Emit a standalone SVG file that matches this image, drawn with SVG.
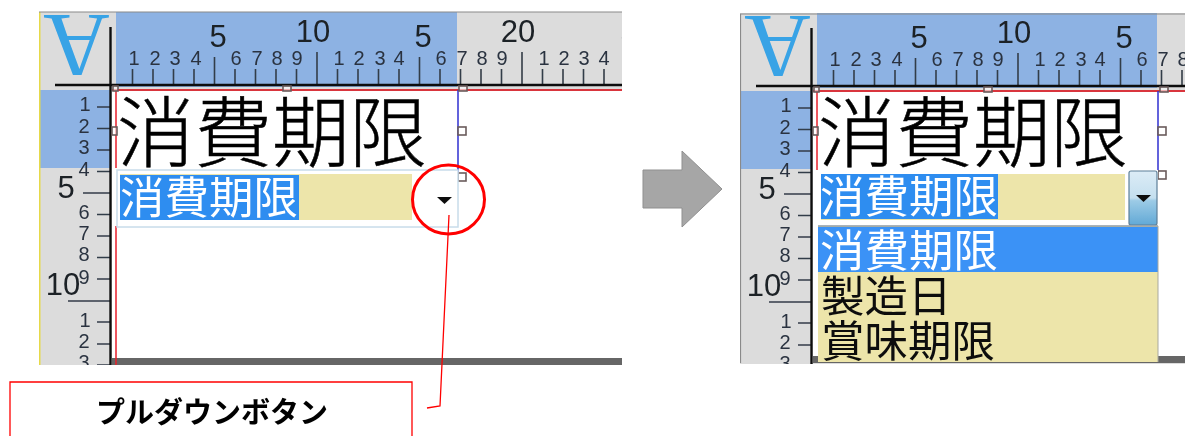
<svg xmlns="http://www.w3.org/2000/svg" xmlns:xlink="http://www.w3.org/1999/xlink" width="1189" height="436" viewBox="0 0 1189 436">
<style>
.n{font-family:"Liberation Sans",Arial,sans-serif;font-size:20px;fill:#2a3340;text-anchor:middle}
.m{font-family:"Liberation Sans",Arial,sans-serif;font-size:31px;fill:#1c2026;text-anchor:middle}
.tick{stroke:#333c48;stroke-width:1.6;fill:none}
.axis{stroke:#111;stroke-width:2.4;fill:none}
.h{fill:#fff;fill-opacity:.6;stroke:#6a5a5a;stroke-width:1.6}
.jp{font-family:"Liberation Sans","Noto Sans CJK JP",sans-serif}
.big{font-size:77.5px;font-weight:300;fill:#000;stroke:#000;stroke-width:.5}
.fld{font-size:44.5px;fill:#fff}
.lst{font-size:43.5px;fill:#111}
.red{stroke:#f00;fill:none}
</style>
<defs>
<filter id="soft" x="0" y="0" width="100%" height="100%"><feGaussianBlur stdDeviation="0.45"/></filter>
<clipPath id="cl"><rect x="39" y="12" width="583" height="353"/></clipPath>
<clipPath id="cr"><rect x="39" y="12" width="445" height="351"/></clipPath>
<linearGradient id="btn" x1="0" y1="0" x2="0" y2="1">
<stop offset="0" stop-color="#dcecf6"/><stop offset=".5" stop-color="#c4dfef"/><stop offset=".55" stop-color="#9ccbe6"/><stop offset="1" stop-color="#62a9d6"/>
</linearGradient>
<g id="ruler">
<path class="tick" d="M132.500 69V85M153 69V85M173.500 69V85M194 69V85M214.500 57V85M235 69V85M255.500 69V85M276 69V85M296.500 69V85M317 52V85M337.500 69V85M358 69V85M378.500 69V85M399 69V85M419.500 57V85M440 69V85M460.500 69V85M481 69V85M501.500 69V85M522 52V85M542.500 69V85M563 69V85M583.500 69V85M604 69V85"/>
<path class="tick" d="M97 107H110M97 128.500H110M97 150H110M97 171.500H110M83 193H110M97 214.500H110M97 236H110M97 257.500H110M97 279H110M68 301H110M97 322H110M97 344H110M97 365H110"/>
<g>
<text class="n" x="134" y="65">1</text><text class="n" x="155" y="65">2</text><text class="n" x="175" y="65">3</text><text class="n" x="196" y="65">4</text><text class="m" x="218" y="47">5</text><text class="n" x="236" y="65">6</text><text class="n" x="257" y="65">7</text><text class="n" x="277" y="65">8</text><text class="n" x="297" y="65">9</text><text class="m" x="313" y="42">10</text>
<text class="n" x="339" y="65">1</text><text class="n" x="359" y="65">2</text><text class="n" x="380" y="65">3</text><text class="n" x="399" y="65">4</text><text class="m" x="423" y="47">5</text><text class="n" x="441" y="65">6</text><text class="n" x="462" y="65">7</text><text class="n" x="482" y="65">8</text><text class="n" x="502" y="65">9</text><text class="m" x="518" y="42">20</text>
<text class="n" x="544" y="65">1</text><text class="n" x="564" y="65">2</text><text class="n" x="584" y="65">3</text><text class="n" x="604" y="65">4</text><text class="m" x="629" y="43">5</text>
</g>
<g>
<text class="n" x="85" y="111">1</text><text class="n" x="84" y="133">2</text><text class="n" x="84" y="154">3</text><text class="n" x="84" y="176">4</text><text class="m" x="66" y="198">5</text><text class="n" x="84" y="219">6</text><text class="n" x="84" y="240">7</text><text class="n" x="84" y="261">8</text><text class="n" x="84" y="284">9</text><text class="m" x="63" y="295">10</text><text class="n" x="85" y="327">1</text><text class="n" x="84" y="348">2</text><text class="n" x="84" y="369">3</text>
</g>
<text transform="rotate(180 76.500 48)" x="76.500" y="81" font-family="Liberation Serif,serif" font-size="92" fill="#37a3e6" text-anchor="middle">A</text>
<path class="axis" d="M55 85H622M110.500 27V365"/>
</g>
</defs>

<rect width="1189" height="436" fill="#fff"/>

<g id="panel-left" filter="url(#soft)">
<g clip-path="url(#cl)">
<rect x="39" y="12" width="583" height="353" fill="#dcdcdc"/>
<rect x="116" y="12" width="341" height="75" fill="#8db2e3"/>
<rect x="39" y="90" width="71" height="78" fill="#8db2e3"/>
<rect x="112" y="90" width="510" height="268" fill="#fff"/>
<rect x="112" y="358" width="510" height="7" fill="#666"/>
<use xlink:href="#ruler" href="#ruler"/>
</g>
<path d="M39.500 12V365" stroke="#e6d94a" stroke-width="2" fill="none"/>
<path d="M39 12H622" stroke="#8a8a8a" stroke-width="1.2" fill="none"/>
<path d="M112 90H622" stroke="#d9363e" stroke-width="1.800" fill="none"/>
<path d="M116 90V168M116 226V365" stroke="#e8202a" stroke-width="1.500" fill="none"/>
<path d="M458 90V172" stroke="#3030d0" stroke-width="1.500" fill="none"/>
<g>
<rect class="h" x="113" y="86" width="5" height="5"/><rect class="h" x="283" y="86" width="8" height="5"/><rect class="h" x="459" y="86" width="8" height="5"/>
<rect class="h" x="112" y="127" width="5" height="8"/><rect class="h" x="458" y="127" width="8" height="8"/><rect class="h" x="458" y="173" width="8" height="8"/>
</g>
<text class="jp big" x="117" y="161">消費期限</text>
<rect x="117" y="170" width="341" height="57" fill="#fff" stroke="#c8dcea" stroke-width="1.500"/>
<rect x="120" y="174" width="292" height="46" fill="#ede5aa"/>
<rect x="120" y="175" width="179" height="45" fill="#2f8df0"/>
<text class="jp fld" x="120" y="214">消費期限</text>
<path d="M437 197H452L444.500 204Z" fill="#111"/>
</g>

<g id="panel-right" filter="url(#soft)">
<g clip-path="url(#cr)" transform="translate(701,1)">
<rect x="39" y="12" width="445" height="351" fill="#dcdcdc"/>
<rect x="116" y="12" width="340" height="75" fill="#8db2e3"/>
<rect x="39" y="90" width="71" height="78" fill="#8db2e3"/>
<rect x="112" y="90" width="372" height="265" fill="#fff"/>
<rect x="112" y="355" width="372" height="7" fill="#666"/>
<use xlink:href="#ruler" href="#ruler"/>
</g>
<path d="M740.500 14V363" stroke="#8a8a8a" stroke-width="1.200" fill="none"/>
<path d="M740 14H1185" stroke="#8a8a8a" stroke-width="1.2" fill="none"/>
<path d="M813 91H1185" stroke="#d9363e" stroke-width="1.800" fill="none"/>
<path d="M817 91V170" stroke="#e8202a" stroke-width="1.500" fill="none"/>
<path d="M1158 91V172" stroke="#3030d0" stroke-width="1.500" fill="none"/>
<g>
<rect class="h" x="814" y="87" width="5" height="5"/><rect class="h" x="984" y="87" width="8" height="5"/><rect class="h" x="1160" y="87" width="8" height="5"/>
<rect class="h" x="813" y="127" width="5" height="8"/><rect class="h" x="1158" y="127" width="8" height="8"/><rect class="h" x="1158" y="171" width="8" height="8"/>
</g>
<text class="jp big" x="818" y="161">消費期限</text>
<rect x="818" y="170" width="340" height="56" fill="#fff"/>
<rect x="821" y="174" width="304" height="46" fill="#ede5aa"/>
<rect x="821" y="174" width="177" height="45" fill="#2f8df0"/>
<text class="jp fld" x="820" y="213">消費期限</text>
<rect x="1129" y="171" width="28" height="54" rx="2" fill="url(#btn)" stroke="#5d7f98" stroke-width="1.200"/>
<path d="M1136 195H1151L1143.500 202Z" fill="#111"/>
<rect x="818" y="226" width="340" height="136" fill="#ede5aa"/>
<rect x="818" y="227" width="340" height="45" fill="#3a92f6"/>
<path d="M818 226H1158" stroke="#8d9aa5" stroke-width="1.500" fill="none"/>
<path d="M1158 226V362" stroke="#a9a9a0" stroke-width="1" fill="none"/>
<text class="jp fld" x="820" y="267">消費期限</text>
<text class="jp lst" x="821" y="312">製造日</text>
<text class="jp lst" x="821" y="357">賞味期限</text>
</g>

<g id="arrow-block">
<path d="M643 170H682V151L722 189L682 227V208H643Z" fill="#a6a6a6" stroke="#8f8f8f" stroke-width="1"/>
</g>

<g id="connectors">
<path class="red" stroke-width="1.300" d="M449 215L440 406L427 408"/>
</g>

<g id="callout-circle">
<ellipse class="red" cx="448.500" cy="199.500" rx="36" ry="34.500" stroke-width="3"/>
</g>

<g id="label-pulldown">
<path class="red" stroke-width="1.300" d="M10 436V382H412V436"/>
<text class="jp" x="212" y="423" font-size="29" font-weight="700" fill="#000" text-anchor="middle">プルダウンボタン</text>
</g>
</svg>
